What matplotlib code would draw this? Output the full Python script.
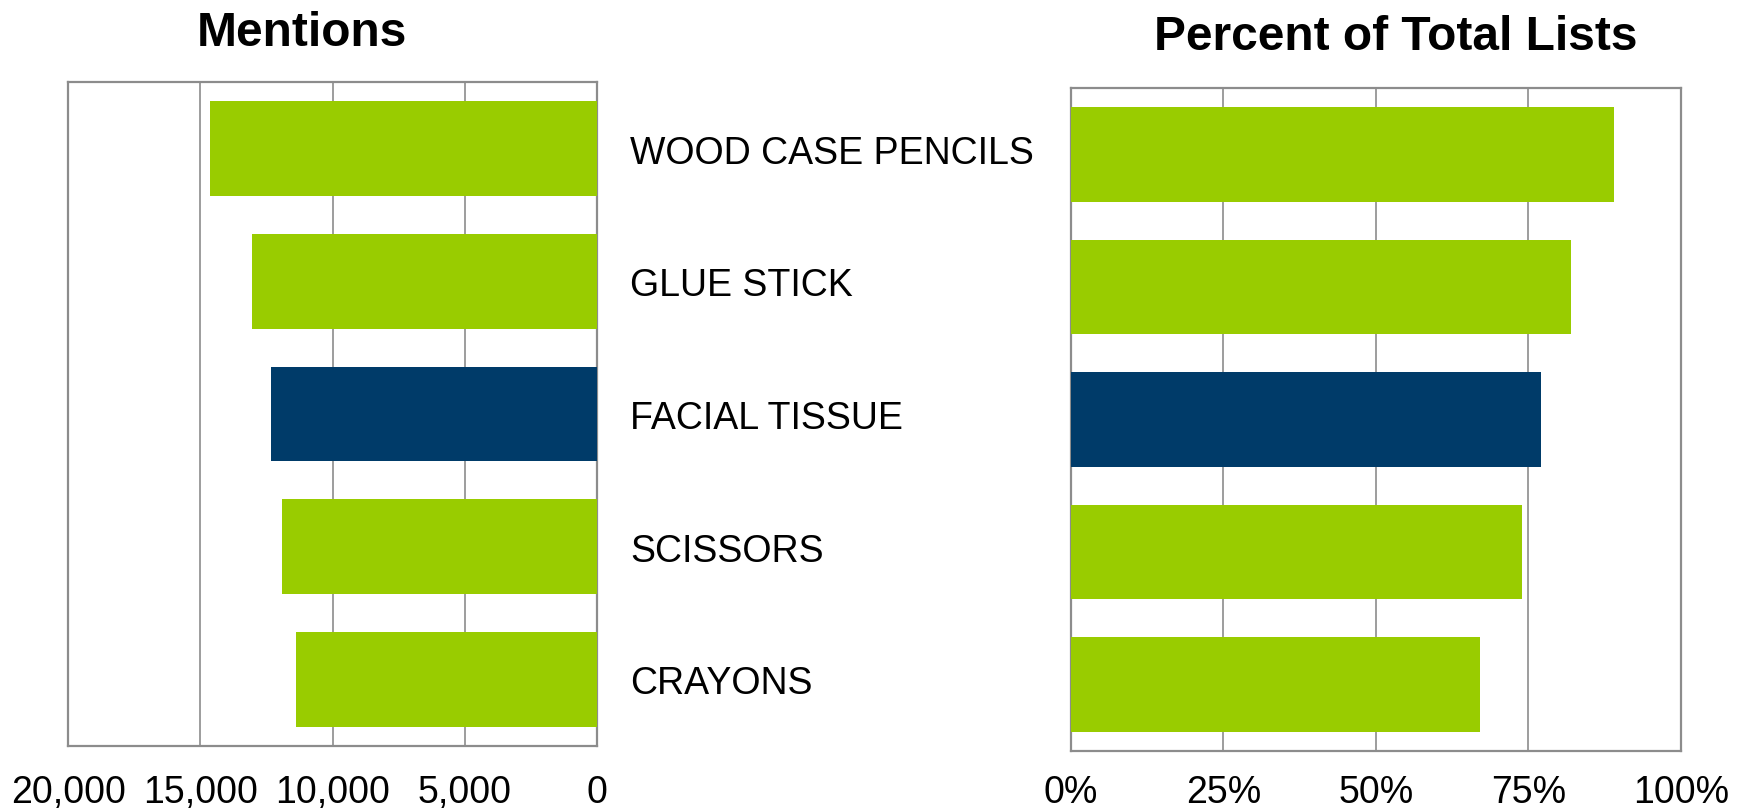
import matplotlib
matplotlib.use("Agg")
import matplotlib.pyplot as plt
from matplotlib.ticker import FuncFormatter

plt.rcParams['font.family'] = ['Liberation Sans', 'DejaVu Sans']

categories = ["WOOD CASE PENCILS", "GLUE STICK", "FACIAL TISSUE", "SCISSORS", "CRAYONS"]
mentions = [14650, 13060, 12350, 11900, 11380]
percent_lists = [0.89, 0.82, 0.77, 0.74, 0.67]
highlight = "FACIAL TISSUE"

mention_ticks = [0, 5000, 10000, 15000, 20000]
percent_ticks = [0, 0.25, 0.5, 0.75, 1.0]

GREEN = "#99cc00"
NAVY = "#003b69"
GRID = "#8c8c8c"

colors = [NAVY if c == highlight else GREEN for c in categories]
ypos = list(range(len(categories)))

fig = plt.figure(figsize=(17.46, 8.12), dpi=100)

# Left axis: Mentions
axL = fig.add_axes([0.03912, 0.08042, 0.30281, 0.81675])
axL.barh(ypos, mentions, height=0.714, color=colors, zorder=3)
axL.set_xlim(20000, 0)
axL.set_ylim(len(categories) - 0.5, -0.5)
axL.set_xticks(mention_ticks)
axL.xaxis.set_major_formatter(FuncFormatter(lambda v, p: f"{int(v):,}"))
axL.set_yticks(ypos)
axL.set_yticklabels(categories)
axL.yaxis.tick_right()
axL.tick_params(axis='y', length=0, pad=24, labelsize=27)
axL.tick_params(axis='x', length=0, pad=20.5, labelsize=27)
axL.grid(axis='x', color=GRID, linewidth=1.2, zorder=0)
for s in axL.spines.values():
    s.set_color(GRID)
    s.set_linewidth(1.6)

# Right axis: Percent of Total Lists
axR = fig.add_axes([0.61323, 0.07426, 0.34954, 0.81576])
axR.barh(ypos, percent_lists, height=0.714, color=colors, zorder=3)
axR.set_xlim(0, 1)
axR.set_ylim(len(categories) - 0.5, -0.5)
axR.set_xticks(percent_ticks)
axR.xaxis.set_major_formatter(FuncFormatter(lambda v, p: f"{int(round(v * 100))}%"))
axR.set_yticks([])
axR.tick_params(axis='x', length=0, pad=17, labelsize=27)
axR.grid(axis='x', color=GRID, linewidth=1.2, zorder=0)
for s in axR.spines.values():
    s.set_color(GRID)
    s.set_linewidth(1.6)

fig.text(302 / 1746, 1 - 46.5 / 812, "Mentions", ha='center', va='baseline',
         fontsize=34.5, fontweight='bold')
fig.text(1396 / 1746, 1 - 49.5 / 812, "Percent of Total Lists", ha='center', va='baseline',
         fontsize=34.5, fontweight='bold')

fig.savefig("out.png", dpi=100)
